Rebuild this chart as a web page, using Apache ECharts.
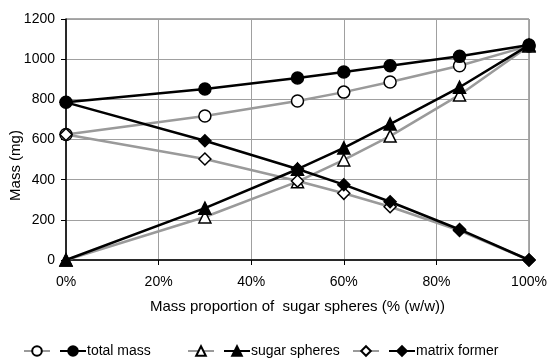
<!DOCTYPE html>
<html><head><meta charset="utf-8">
<script src="https://cdn.jsdelivr.net/npm/echarts@6/dist/echarts.min.js"></script>
<style>html,body{margin:0;padding:0;background:#fff}#c{width:551px;height:364px}</style>
</head><body><div id="c"></div>
<script>
const xValues = [0, 30, 50, 60, 70, 85, 100];
const xTicks = ['0%','20%','40%','60%','80%','100%'];
const yTicks = [0, 200, 400, 600, 800, 1000, 1200];
const totalMassOpen = [625, 717, 792, 836, 886, 967, 1066];
const totalMass = [785, 851, 906, 936, 967, 1014, 1070];
const sugarOpen = [0, 214, 390, 498, 617, 822, 1066];
const sugarSpheres = [0, 258, 452, 558, 677, 860, 1070];
const matrixOpen = [625, 503, 393, 332, 265, 147, 0];
const matrixFormer = [785, 594, 453, 375, 290, 152, 0];

const font = 'Liberation Sans, Arial, sans-serif';
const gray = '#9a9a9a';
function pts(arr){ return xValues.map((x,i)=>[x, arr[i]]); }
function s(name, arr, color, symbol, filled, z){
  return {
    name, type:'line', data: pts(arr), symbol, symbolSize: 12,
    lineStyle:{color, width: 2.5}, itemStyle:{color: filled?'#000':'#fff', borderColor:'#000', borderWidth:1.5},
    z, animation:false
  };
}
const chart = echarts.init(document.getElementById('c'));
const legendBase = {
  top: 339, itemWidth: 26, itemHeight: 12, itemGap: 8,
  textStyle:{fontFamily:font, fontSize:14, color:'#000', padding:[0,0,0,-4]},
  formatter: n => n.endsWith(' ') ? '' : n, selectedMode:false
};
chart.setOption({
  animation:false,
  grid:{left:66, right:22, top:19, bottom:104, show:true, borderColor:'#555', borderWidth:1, containLabel:false, outerBoundsMode:'none'},
  xAxis:{type:'value', min:0, max:100, interval:20,
    name:'Mass proportion of  sugar spheres (% (w/w))', nameLocation:'middle', nameGap:39, nameMoveOverlap:false,
    nameTextStyle:{fontFamily:font, fontSize:15, color:'#000'},
    axisLine:{lineStyle:{color:'#000', width:1.5}},
    axisTick:{show:true, length:5, lineStyle:{color:'#000'}},
    axisLabel:{fontFamily:font, fontSize:14, color:'#000', margin:15, formatter: v => xTicks[v/20]},
    splitLine:{show:true, lineStyle:{color:'#a0a0a0', width:1}}},
  yAxis:{type:'value', min:0, max:1200, interval:200,
    name:'Mass (mg)', nameLocation:'middle', nameGap:43, nameMoveOverlap:false,
    nameTextStyle:{fontFamily:font, fontSize:15, color:'#000', padding:[0,52,0,0]},
    axisLine:{show:true, lineStyle:{color:'#000', width:1.5}},
    axisTick:{show:true, length:5, lineStyle:{color:'#000'}},
    axisLabel:{fontFamily:font, fontSize:14, color:'#000', margin:11, formatter: v => String(yTicks[v/200])},
    splitLine:{show:true, lineStyle:{color:'#a0a0a0', width:1}}},
  legend:[
    Object.assign({}, legendBase, {left:18, data:['total mass ', 'total mass']}),
    Object.assign({}, legendBase, {left:182, data:['sugar spheres ', 'sugar spheres']}),
    Object.assign({}, legendBase, {left:347, data:['matrix former ', 'matrix former']})
  ],
  series:[
    s('total mass ', totalMassOpen, gray, 'circle', false, 2),
    s('sugar spheres ', sugarOpen, gray, 'triangle', false, 2),
    s('matrix former ', matrixOpen, gray, 'diamond', false, 2),
    s('total mass', totalMass, '#000', 'circle', true, 3),
    s('sugar spheres', sugarSpheres, '#000', 'triangle', true, 3),
    s('matrix former', matrixFormer, '#000', 'diamond', true, 3)
  ]
});
</script></body></html>
